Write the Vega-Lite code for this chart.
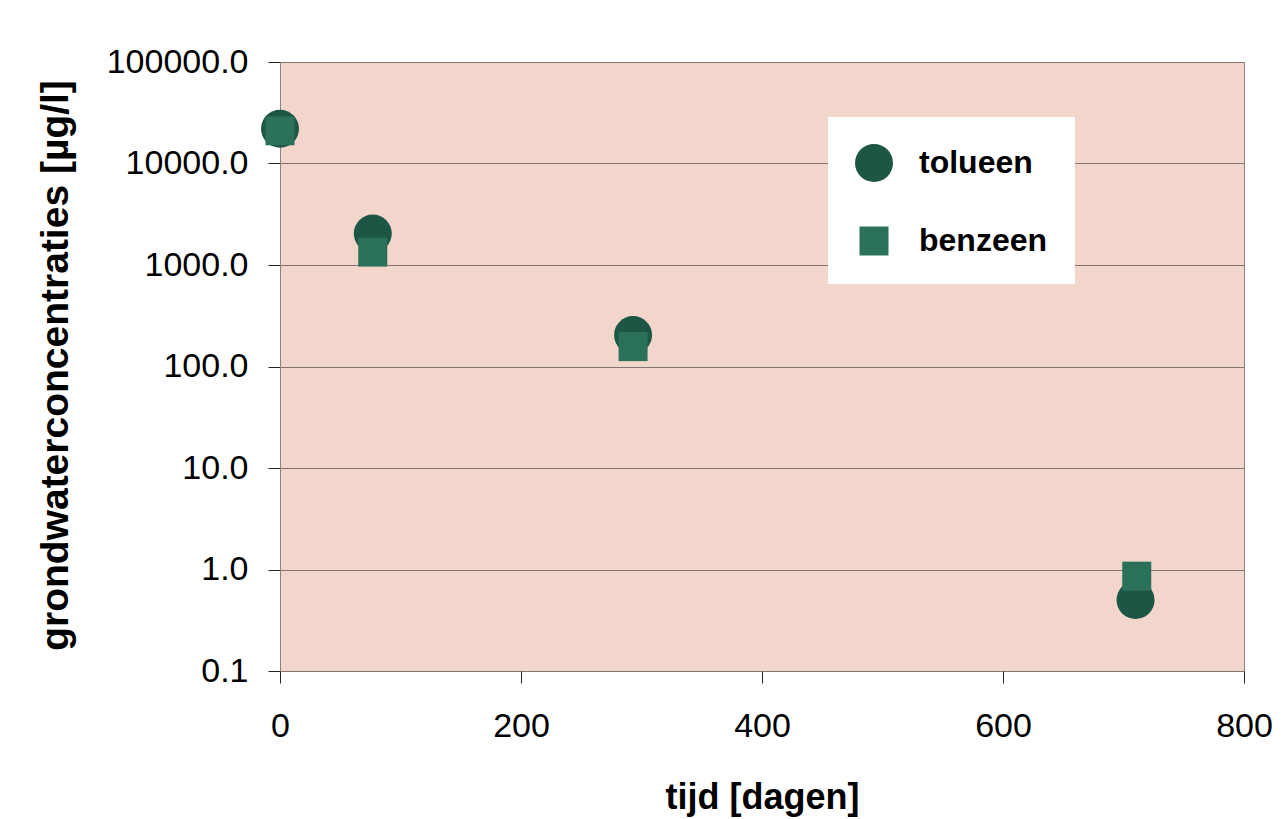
{
  "$schema": "https://vega.github.io/schema/vega-lite/v6.json",
  "width": 964,
  "height": 609,
  "autosize": {"type": "none"},
  "padding": {"left": 280, "top": 62, "right": 39, "bottom": 148},
  "background": "#ffffff",
  "config": {
    "font": "Liberation Sans",
    "view": {"fill": "#f2d6cc", "stroke": "#8c8280", "strokeWidth": 1}
  },
  "data": {
    "values": [
      {"stof": "tolueen", "tijd": 0, "conc": 22000},
      {"stof": "tolueen", "tijd": 77, "conc": 2040},
      {"stof": "tolueen", "tijd": 293, "conc": 204},
      {"stof": "tolueen", "tijd": 710, "conc": 0.5},
      {"stof": "benzeen", "tijd": 0, "conc": 21000},
      {"stof": "benzeen", "tijd": 77, "conc": 1340},
      {"stof": "benzeen", "tijd": 293, "conc": 157},
      {"stof": "benzeen", "tijd": 711, "conc": 0.86}
    ]
  },
  "mark": {"type": "point", "filled": true, "opacity": 1, "strokeWidth": 0},
  "encoding": {
    "x": {
      "field": "tijd", "type": "quantitative",
      "scale": {"domain": [0, 800], "nice": false, "zero": false},
      "axis": {
        "title": "tijd [dagen]",
        "values": [0, 200, 400, 600, 800],
        "grid": false,
        "domain": false,
        "tickSize": 12, "tickColor": "#222222", "tickWidth": 1,
        "labelFontSize": 34, "labelColor": "#000000", "labelPadding": 26,
        "labelFlush": false,
        "titleFontSize": 36, "titleFontWeight": "bold", "titleColor": "#000000",
        "titleBaseline": "alphabetic", "titleY": 137
      }
    },
    "y": {
      "field": "conc", "type": "quantitative",
      "scale": {"type": "log", "domain": [0.1, 100000], "nice": false},
      "axis": {
        "title": "grondwaterconcentraties [µg/l]",
        "values": [0.1, 1, 10, 100, 1000, 10000, 100000],
        "format": ".1f",
        "grid": true, "gridColor": "#857570", "gridWidth": 1, "gridOpacity": 1,
        "domain": true, "domainColor": "#8c8280",
        "tickSize": 12, "tickColor": "#222222", "tickWidth": 1,
        "labelFontSize": 34, "labelColor": "#000000", "labelPadding": 20,
        "labelFlush": false,
        "titleFontSize": 39, "titleFontWeight": "bold", "titleColor": "#000000",
        "titleBaseline": "alphabetic", "titleAngle": -90, "titleX": -213, "titleY": 303
      }
    },
    "color": {
      "field": "stof", "type": "nominal",
      "scale": {"domain": ["tolueen", "benzeen"], "range": ["#1e5645", "#2b7059"]},
      "legend": {
        "title": null,
        "orient": "none", "legendX": 548, "legendY": 55,
        "fillColor": "#ffffff", "padding": 27,
        "labelFontSize": 32, "labelFontWeight": "bold", "labelColor": "#000000",
        "labelOffset": 26, "rowPadding": 43,
        "symbolStrokeWidth": 0, "symbolOpacity": 1
      }
    },
    "shape": {
      "field": "stof", "type": "nominal",
      "scale": {"domain": ["tolueen", "benzeen"], "range": ["circle", "square"]}
    },
    "size": {
      "field": "stof", "type": "nominal",
      "scale": {"domain": ["tolueen", "benzeen"], "range": [1444, 841]}
    }
  }
}
